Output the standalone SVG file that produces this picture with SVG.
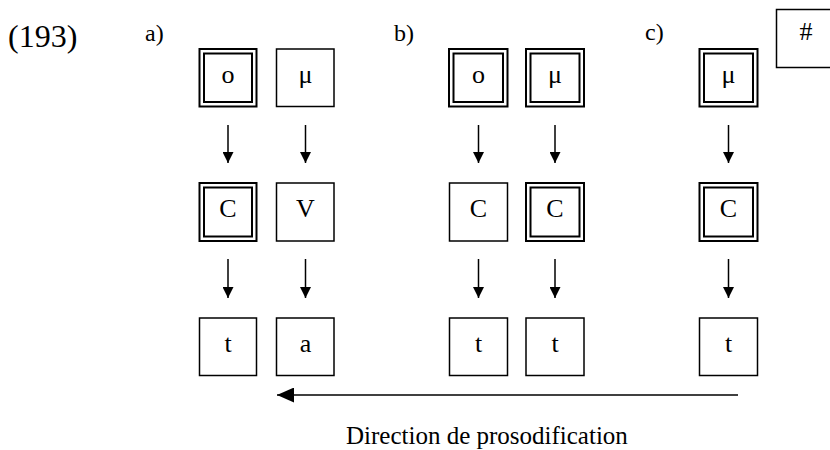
<svg xmlns="http://www.w3.org/2000/svg" width="830" height="450" viewBox="0 0 830 450">
<style>
text{font-family:"Liberation Serif","Times New Roman",serif;fill:#000}
.lbl{font-size:26px;text-anchor:middle}
.box{fill:#fff;stroke:#000;stroke-width:1.5}
.dbl{fill:none;stroke:#000;stroke-width:2}
.ln{stroke:#000;stroke-width:1.5;fill:none}
</style>
<defs>
<marker id="ah" markerWidth="11" markerHeight="11" viewBox="0 0 11 11" refX="11" refY="5.5" orient="auto" markerUnits="userSpaceOnUse">
<path d="M0,0 L11,5.5 L0,11 Z" fill="#000"/>
</marker>
<marker id="ahb" markerWidth="17" markerHeight="15" viewBox="0 0 17 15" refX="17" refY="7.5" orient="auto" markerUnits="userSpaceOnUse">
<path d="M0,0 L17,7.5 L0,15 Z" fill="#000"/>
</marker>
</defs>
<text x="8" y="47" style="font-size:32px">(193)</text>
<text x="145" y="41" style="font-size:24px">a)</text>
<text x="394" y="41" style="font-size:24px">b)</text>
<text x="645" y="40" style="font-size:24px">c)</text>

<g id="n-hash"><rect class="box" x="776.5" y="9.5" width="60" height="58"/><text class="lbl" x="806" y="40">#</text></g>

<g id="a-o"><rect class="dbl" x="199.5" y="49" width="57" height="57.5"/><rect class="dbl" x="204" y="53.5" width="48" height="48.5"/><text class="lbl" x="228" y="82.5">o</text></g>
<g id="a-mu"><rect class="box" x="276.5" y="49" width="57.5" height="57.5"/><text class="lbl" x="305.5" y="82.5">μ</text></g>
<g id="a-C"><rect class="dbl" x="199.5" y="183" width="57" height="58"/><rect class="dbl" x="204" y="187.5" width="48" height="49"/><text class="lbl" x="228" y="216.5">C</text></g>
<g id="a-V"><rect class="box" x="276.5" y="183" width="57.5" height="58"/><text class="lbl" x="305.5" y="216.5">V</text></g>
<g id="a-t"><rect class="box" x="199.5" y="318" width="57" height="57.5"/><text class="lbl" x="228" y="352">t</text></g>
<g id="a-a"><rect class="box" x="276.5" y="318" width="57.5" height="57.5"/><text class="lbl" x="305.5" y="352">a</text></g>

<g id="b-o"><rect class="dbl" x="449" y="49" width="58.5" height="57.5"/><rect class="dbl" x="453.5" y="53.5" width="49.5" height="48.5"/><text class="lbl" x="478.5" y="82.5">o</text></g>
<g id="b-mu"><rect class="dbl" x="526" y="49" width="58" height="57.5"/><rect class="dbl" x="530.5" y="53.5" width="49" height="48.5"/><text class="lbl" x="555" y="82.5">μ</text></g>
<g id="b-C1"><rect class="box" x="449.5" y="183" width="58" height="58"/><text class="lbl" x="478.5" y="216.5">C</text></g>
<g id="b-C2"><rect class="dbl" x="526" y="183" width="58" height="58"/><rect class="dbl" x="530.5" y="187.5" width="49" height="49"/><text class="lbl" x="555" y="216.5">C</text></g>
<g id="b-t1"><rect class="box" x="449.5" y="318" width="58" height="57.5"/><text class="lbl" x="478.5" y="352">t</text></g>
<g id="b-t2"><rect class="box" x="526" y="318" width="58" height="57.5"/><text class="lbl" x="555" y="352">t</text></g>

<g id="c-mu"><rect class="dbl" x="699.5" y="49" width="58" height="57.5"/><rect class="dbl" x="704" y="53.5" width="49" height="48.5"/><text class="lbl" x="728.5" y="82.5">μ</text></g>
<g id="c-C"><rect class="dbl" x="699.5" y="183" width="58" height="58"/><rect class="dbl" x="704" y="187.5" width="49" height="49"/><text class="lbl" x="728.5" y="216.5">C</text></g>
<g id="c-t"><rect class="box" x="699.5" y="318" width="58" height="57.5"/><text class="lbl" x="728.5" y="352">t</text></g>

<g id="connectors">
<line class="ln" x1="228" y1="125" x2="228" y2="163" marker-end="url(#ah)"/>
<line class="ln" x1="305.5" y1="125" x2="305.5" y2="163" marker-end="url(#ah)"/>
<line class="ln" x1="478.5" y1="125" x2="478.5" y2="163" marker-end="url(#ah)"/>
<line class="ln" x1="555" y1="125" x2="555" y2="163" marker-end="url(#ah)"/>
<line class="ln" x1="728.5" y1="125" x2="728.5" y2="163" marker-end="url(#ah)"/>
<line class="ln" x1="228" y1="259" x2="228" y2="298" marker-end="url(#ah)"/>
<line class="ln" x1="305.5" y1="259" x2="305.5" y2="298" marker-end="url(#ah)"/>
<line class="ln" x1="478.5" y1="259" x2="478.5" y2="298" marker-end="url(#ah)"/>
<line class="ln" x1="555" y1="259" x2="555" y2="298" marker-end="url(#ah)"/>
<line class="ln" x1="728.5" y1="259" x2="728.5" y2="298" marker-end="url(#ah)"/>
<line class="ln" x1="738" y1="395" x2="277" y2="395" marker-end="url(#ahb)"/>
</g>
<text x="346" y="444" style="font-size:25px">Direction de prosodification</text>
</svg>
